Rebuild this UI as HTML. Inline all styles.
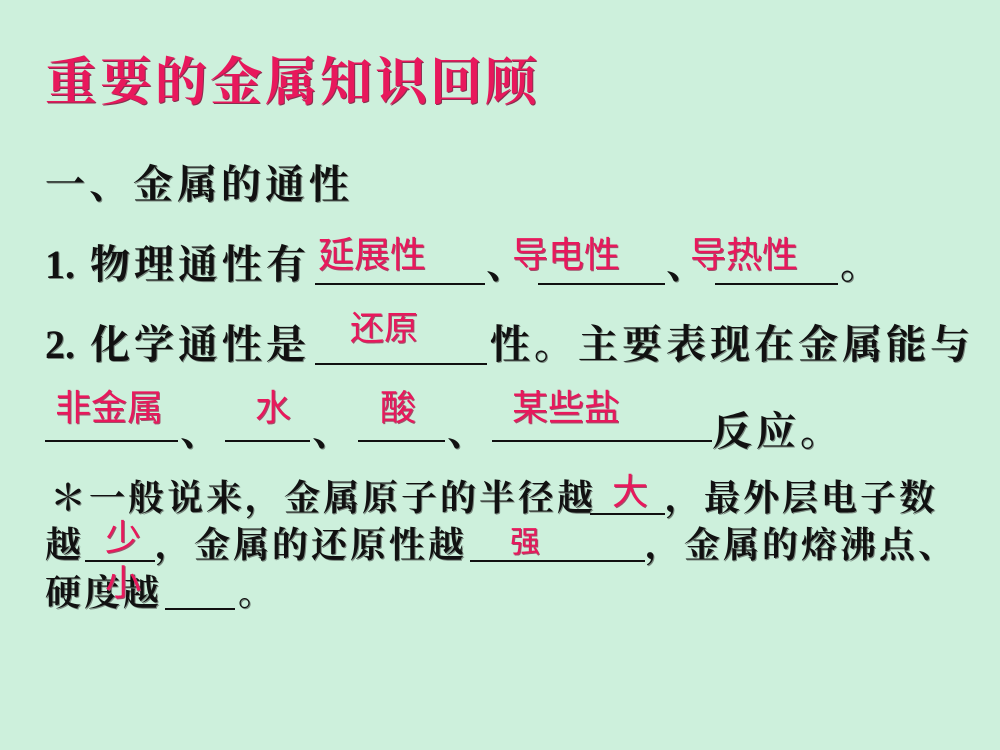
<!DOCTYPE html>
<html><head><meta charset="utf-8"><style>
html,body{margin:0;padding:0}
body{width:1000px;height:750px;background:#cdf0dc;position:relative;overflow:hidden}
.t{position:absolute;white-space:nowrap;line-height:1;font-family:"Liberation Serif","Noto Serif CJK SC",serif;font-weight:bold;color:#111;text-shadow:1px 1px 0 #7a8a80}
.b{font-size:40px;letter-spacing:4px}
.s{font-size:36px;letter-spacing:3px}
.p{position:absolute;white-space:nowrap;line-height:1;font-family:"Liberation Sans","Noto Sans CJK SC",sans-serif;color:#e8185c;text-shadow:1px 1px 0 #a0506a}
.u{position:absolute;height:2px;background:#111}
.n{letter-spacing:0}
</style></head><body>
<div class="t" style="left:45px;top:58px;font-size:52px;letter-spacing:3px;color:#e8185c;text-shadow:1px 1px 0 #8a3050">重要的金属知识回顾</div>
<div class="t b" style="left:45px;top:165px">一、金属的通性</div>

<div class="t b" style="left:45px;top:245px"><span class="n">1.</span></div>
<div class="t b" style="left:90px;top:245px">物理通性有</div>
<div class="u" style="left:315px;top:283px;width:170px"></div>
<div class="t b" style="left:486px;top:245px">、</div>
<div class="u" style="left:538px;top:283px;width:127px"></div>
<div class="t b" style="left:666px;top:245px">、</div>
<div class="u" style="left:715px;top:283px;width:123px"></div>
<div class="t b" style="left:840px;top:245px">。</div>
<div class="p" style="left:318px;top:237px;font-size:36px">延展性</div>
<div class="p" style="left:512px;top:237px;font-size:36px">导电性</div>
<div class="p" style="left:690px;top:237px;font-size:36px">导热性</div>

<div class="t b" style="left:45px;top:325px"><span class="n">2.</span></div>
<div class="t b" style="left:90px;top:325px">化学通性是</div>
<div class="u" style="left:315px;top:363px;width:172px"></div>
<div class="t b" style="left:490px;top:325px">性。主要表现在金属能与</div>
<div class="p" style="left:350px;top:312px;font-size:34px">还原</div>

<div class="u" style="left:45px;top:440px;width:133px"></div>
<div class="t b" style="left:180px;top:412px">、</div>
<div class="u" style="left:225px;top:440px;width:85px"></div>
<div class="t b" style="left:312px;top:412px">、</div>
<div class="u" style="left:358px;top:440px;width:87px"></div>
<div class="t b" style="left:447px;top:412px">、</div>
<div class="u" style="left:492px;top:440px;width:220px"></div>
<div class="t b" style="left:712px;top:412px">反应。</div>
<div class="p" style="left:55px;top:390px;font-size:36px">非金属</div>
<div class="p" style="left:255px;top:390px;font-size:36px">水</div>
<div class="p" style="left:380px;top:390px;font-size:36px">酸</div>
<div class="p" style="left:512px;top:390px;font-size:36px">某些盐</div>

<div class="t s" style="left:50px;top:480px">＊一般说来，金属原子的半径越</div>
<div class="u" style="left:590px;top:513px;width:75px"></div>
<div class="t s" style="left:665px;top:480px">，最外层电子数</div>
<div class="p" style="left:612px;top:474px;font-size:36px">大</div>

<div class="t s" style="left:45px;top:527px">越</div>
<div class="u" style="left:85px;top:560px;width:70px"></div>
<div class="t s" style="left:155px;top:527px">，金属的还原性越</div>
<div class="u" style="left:470px;top:560px;width:175px"></div>
<div class="t s" style="left:645px;top:527px">，金属的熔沸点、</div>
<div class="p" style="left:105px;top:520px;font-size:36px">少</div>
<div class="p" style="left:510px;top:528px;font-size:30px">强</div>

<div class="t s" style="left:45px;top:575px">硬度越</div>
<div class="u" style="left:165px;top:608px;width:70px"></div>
<div class="t s" style="left:238px;top:575px">。</div>
<div class="p" style="left:105px;top:565px;font-size:36px">小</div>
</body></html>
